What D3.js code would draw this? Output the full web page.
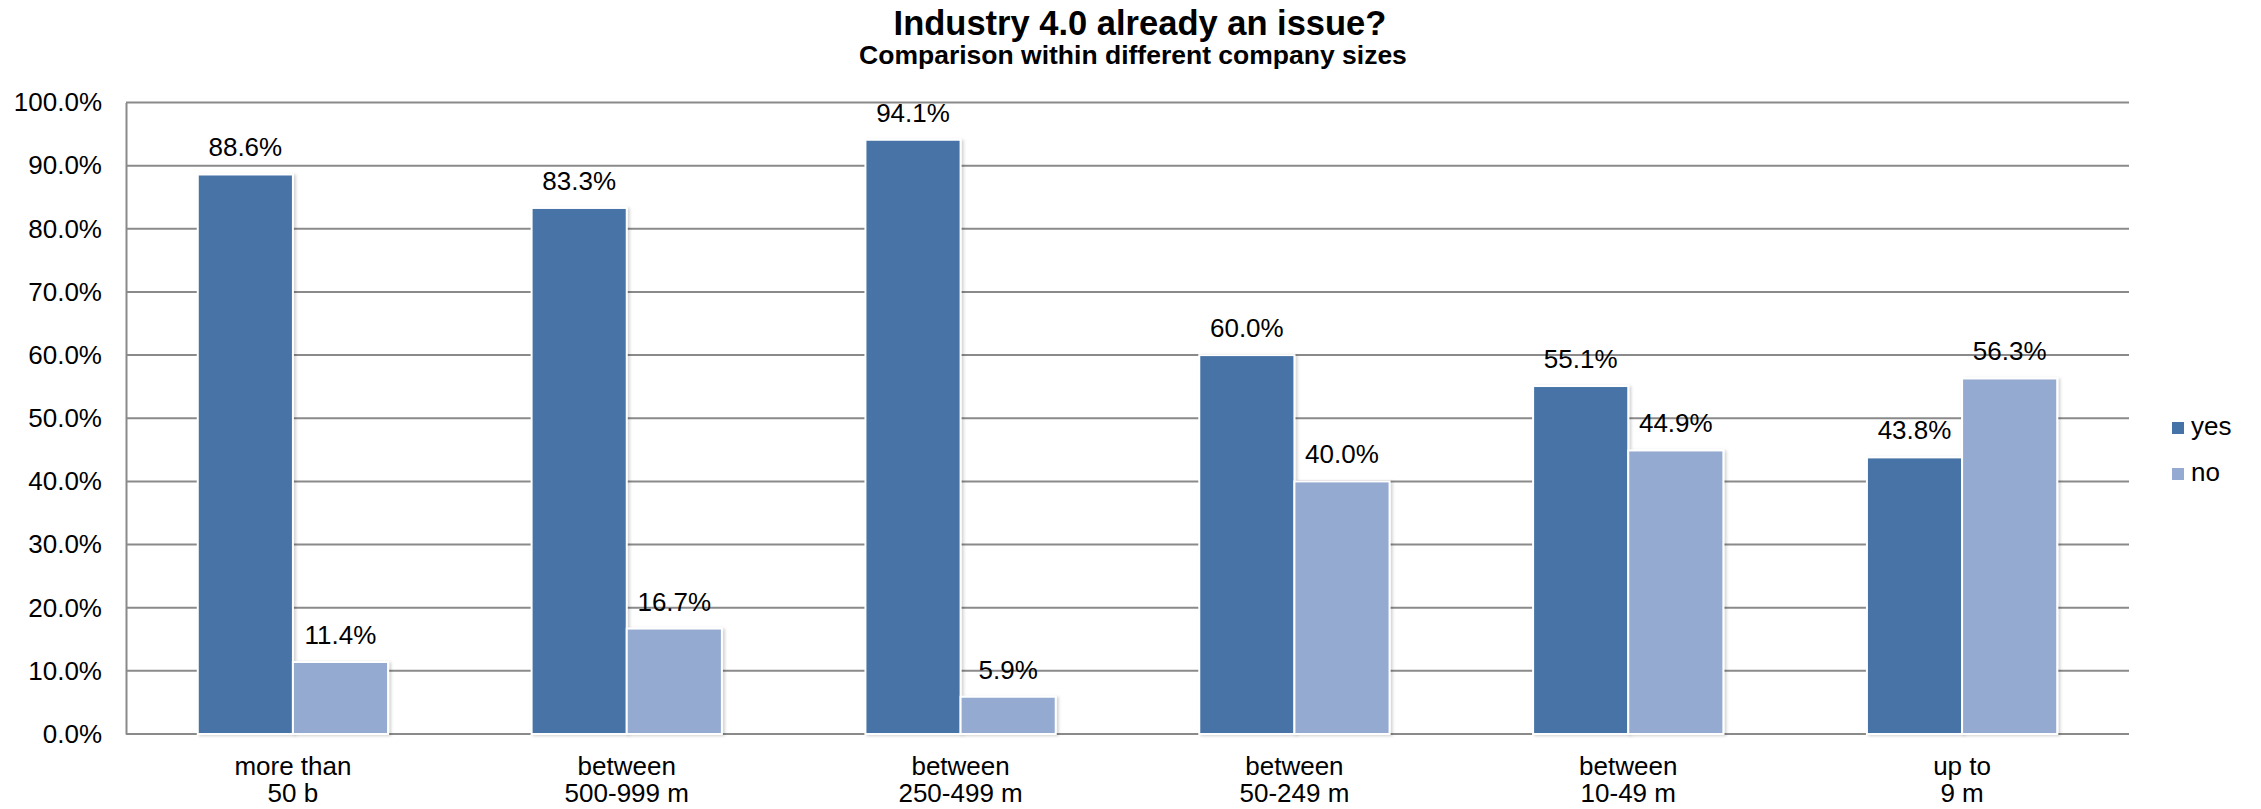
<!DOCTYPE html>
<html>
<head>
<meta charset="utf-8">
<script src="https://cdn.jsdelivr.net/npm/d3@7"></script>
<style>
  html, body { margin: 0; padding: 0; background: #fff; }
  svg { display: block; font-family: "Liberation Sans", Arial, sans-serif; }
</style>
</head>
<body>
<svg id="chart" width="2261" height="809"></svg>
<script>
// Company size groups (two-line labels)
const categories = ["more than|50 b", "between|500-999 m", "between|250-499 m", "between|50-249 m", "between|10-49 m", "up to|9 m"];
const seriesNames = ["yes", "no"];
const yesValues = [88.6, 83.3, 94.1, 60.0, 55.1, 43.8];
const noValues = [11.4, 16.7, 5.9, 40.0, 44.9, 56.3];
const yTicks = [0, 10, 20, 30, 40, 50, 60, 70, 80, 90, 100];

const colors = { yes: "#4673A7", no: "#95AAD0" };

const svg = d3.select("#chart");
const plot = { left: 126, right: 2129, top: 102.5, bottom: 734 };
const labelSize = 26;

const x0 = d3.scaleBand().domain(categories).range([plot.left, plot.right]).paddingInner(0.43).paddingOuter(0.215);
const x1 = d3.scaleBand().domain(seriesNames).range([0, x0.bandwidth()]);
const y = d3.scaleLinear().domain([0, 100]).range([plot.bottom, plot.top]);

const defs = svg.append("defs");
const shadow = defs.append("filter").attr("id", "barShadow").attr("x", "-10%").attr("y", "-10%").attr("width", "130%").attr("height", "130%");
shadow.append("feDropShadow").attr("dx", 2).attr("dy", 1).attr("stdDeviation", 1.5).attr("flood-color", "#000").attr("flood-opacity", 0.18);

// Title
svg.append("text").attr("x", 1140).attr("y", 35).attr("text-anchor", "middle")
  .attr("font-size", 34.5).attr("font-weight", "bold").attr("fill", "#000")
  .text("Industry 4.0 already an issue?");
svg.append("text").attr("x", 1133).attr("y", 64).attr("text-anchor", "middle")
  .attr("font-size", 26.5).attr("font-weight", "bold").attr("fill", "#000")
  .text("Comparison within different company sizes");

// Gridlines
svg.append("g").selectAll("line").data(yTicks).join("line")
  .attr("x1", plot.left).attr("x2", plot.right)
  .attr("y1", d => y(d)).attr("y2", d => y(d))
  .attr("stroke", "#8a8a8a").attr("stroke-width", 2);

// Y axis
const yAxis = svg.append("g").attr("transform", `translate(${plot.left},0)`)
  .call(d3.axisLeft(y).tickValues(yTicks).tickFormat(d => d.toFixed(1) + "%").tickSize(0).tickPadding(24));
yAxis.select(".domain").attr("stroke", "#8a8a8a").attr("stroke-width", 2);
yAxis.selectAll("text").attr("font-size", labelSize).attr("fill", "#000").attr("font-family", "Liberation Sans, Arial, sans-serif");

// Bars
const data = categories.map((c, i) => ({ cat: c, values: [
  { key: "yes", value: yesValues[i] },
  { key: "no", value: noValues[i] }
]}));

const groups = svg.append("g").selectAll("g").data(data).join("g")
  .attr("transform", d => `translate(${x0(d.cat)},0)`);

groups.selectAll("rect").data(d => d.values).join("rect")
  .attr("x", d => x1(d.key))
  .attr("y", d => y(d.value))
  .attr("width", x1.bandwidth())
  .attr("height", d => y(0) - y(d.value))
  .attr("fill", d => colors[d.key])
  .attr("stroke", "#fff").attr("stroke-width", 2)
  .attr("filter", "url(#barShadow)");

groups.selectAll("text.val").data(d => d.values).join("text")
  .attr("class", "val")
  .attr("x", d => x1(d.key) + x1.bandwidth() / 2)
  .attr("y", d => y(d.value) - 18)
  .attr("text-anchor", "middle").attr("font-size", labelSize).attr("fill", "#000")
  .text(d => d.value.toFixed(1) + "%");

// X axis labels
const xl = svg.append("g").selectAll("text").data(categories).join("text")
  .attr("x", d => x0(d) + x0.bandwidth() / 2)
  .attr("text-anchor", "middle").attr("font-size", labelSize).attr("fill", "#000");
xl.each(function(d) {
  const parts = d.split("|");
  const t = d3.select(this);
  parts.forEach((p, i) => {
    t.append("tspan").attr("x", x0(d) + x0.bandwidth() / 2).attr("y", 775 + i * 27).text(p);
  });
});

// Legend
const legend = svg.append("g").selectAll("g").data(seriesNames).join("g")
  .attr("transform", (d, i) => `translate(2172, ${428 + i * 46})`);
legend.append("rect").attr("x", 0).attr("y", -6).attr("width", 12).attr("height", 12).attr("fill", d => colors[d]);
legend.append("text").attr("x", 19).attr("y", 7).attr("font-size", labelSize).attr("fill", "#000").text(d => d);
</script>
</body>
</html>
